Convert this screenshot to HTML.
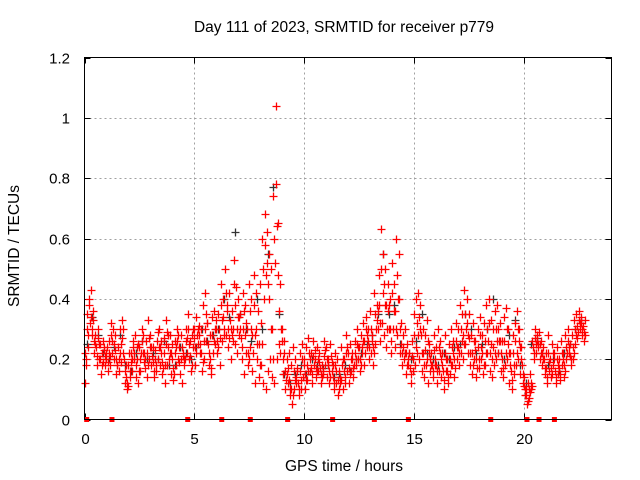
<!DOCTYPE html>
<html><head><meta charset="utf-8"><style>
body{margin:0;background:#fff}
svg{display:block;font-family:"Liberation Sans",sans-serif}
</style></head><body>
<svg id="chart" width="640" height="480" viewBox="0 0 640 480">
<rect width="640" height="480" fill="#fff"/>
<text x="344" y="32" font-size="15.5" text-anchor="middle">Day 111 of 2023, SRMTID for receiver p779</text>
<text transform="translate(19,246) rotate(-90)" font-size="15.5" text-anchor="middle">SRMTID / TECUs</text>
<text x="344" y="471" font-size="15.5" text-anchor="middle">GPS time / hours</text>
<g id="grid"></g>
<g id="axes"></g>
<g id="marks"></g>
<rect x="84.5" y="57.5" width="527" height="362" fill="none" stroke="#000"/>
</svg>
<script>
const xTicks=[0,5,10,15,20];
const yTicks=[0,0.2,0.4,0.6,0.8,1,1.2];
const yTickLabels=["0","0.2","0.4","0.6","0.8","1","1.2"];
const redAStart=0.0, redAStep=0.1;
const redA=[.12,.30,.38,.43,.33,.28,.30,.25,.22,.24,
.20,.26,.32,.30,.28,.18,.22,.33,.20,.14,
.18,.22,.26,.28,.20,.24,.30,.22,.26,.33,
.28,.24,.20,.26,.30,.22,.27,.33,.24,.28,
.20,.26,.30,.24,.28,.22,.30,.35,.26,.28,
.30,.34,.28,.30,.38,.42,.32,.28,.34,.36,
.30,.35,.45,.40,.50,.38,.42,.36,.53,.44,
.40,.35,.42,.38,.30,.45,.40,.48,.42,.36,
.45,.60,.68,.62,.55,.50,.74,1.04,.65,.45,
.30,.26,.20,.22,.18,.24,.20,.16,.22,.25,
.20,.24,.27,.22,.26,.20,.24,.22,.18,.26,
.24,.20,.25,.18,.22,.20,.16,.24,.20,.28,
.22,.25,.20,.26,.30,.24,.28,.32,.34,.30,
.36,.28,.42,.38,.48,.63,.55,.50,.45,.40,
.52,.45,.60,.55,.32,.28,.30,.25,.22,.26,
.35,.40,.42,.38,.30,.28,.33,.25,.22,.28,
.24,.30,.26,.22,.28,.20,.25,.30,.26,.32,
.30,.38,.35,.43,.40,.35,.28,.32,.26,.30,
.34,.28,.32,.38,.40,.33,.30,.36,.38,.32,
.26,.34,.37,.30,.22,.28,.32,.36,.30,.24,
.14,.10,.12,.15,.26,.30,.28,.29,.26,.24,
.22,.28,.20,.25,.22,.24,.20,.26,.22,.28,
.30,.25,.28,.33,.35,.36,.34,.31,.33];
const redBStart=0.05, redBStep=0.1;
const redB=[.20,.24,.32,.28,.22,.18,.20,.15,.19,.21,
.16,.18,.22,.20,.15,.16,.19,.22,.12,.10,
.14,.16,.20,.18,.12,.16,.22,.17,.14,.20,
.18,.14,.16,.20,.18,.15,.12,.18,.20,.15,
.13,.18,.20,.15,.12,.18,.22,.20,.16,.24,
.18,.25,.22,.16,.20,.26,.18,.15,.22,.25,
.22,.18,.26,.30,.28,.24,.20,.30,.25,.22,
.28,.20,.15,.22,.18,.24,.16,.12,.20,.14,
.18,.12,.10,.16,.20,.14,.12,.20,.25,.30,
.15,.10,.12,.08,.05,.10,.12,.08,.10,.14,
.10,.13,.16,.12,.18,.14,.16,.12,.15,.18,
.14,.12,.16,.10,.12,.08,.14,.10,.12,.16,
.12,.16,.14,.18,.20,.16,.22,.18,.24,.20,
.22,.18,.25,.30,.26,.32,.28,.24,.30,.22,
.30,.24,.28,.22,.18,.20,.15,.18,.12,.16,
.18,.22,.20,.16,.14,.18,.12,.16,.14,.18,
.12,.16,.14,.10,.16,.12,.15,.18,.14,.20,
.18,.22,.20,.25,.22,.18,.15,.20,.14,.17,
.20,.15,.18,.22,.16,.14,.18,.20,.22,.16,
.14,.18,.20,.12,.10,.15,.18,.20,.15,.12,
.08,.05,.07,.10,.20,.22,.24,.20,.18,.15,
.12,.16,.14,.18,.12,.15,.13,.18,.14,.20,
.22,.18,.20,.25,.27,.30,.28,.26];
const redCStart=0.025, redCStep=0.1;
const redC=[.22,.35,.40,.30,.26,.24,.27,.20,.26,.18,
.24,.22,.28,.25,.20,.24,.30,.27,.16,.12,
.22,.19,.24,.14,.25,.20,.26,.19,.22,.27,
.24,.19,.23,.29,.24,.19,.22,.25,.28,.22,
.17,.22,.26,.19,.24,.20,.26,.30,.21,.30,
.24,.28,.31,.22,.26,.35,.25,.20,.28,.30,
.26,.30,.38,.34,.42,.30,.33,.28,.45,.30,
.34,.27,.30,.28,.22,.36,.28,.38,.30,.25,
.32,.50,.58,.52,.40,.30,.60,.78,.48,.22,
.20,.16,.15,.13,.10,.16,.14,.12,.16,.20,
.15,.18,.22,.17,.21,.17,.20,.17,.14,.21,
.20,.16,.21,.14,.18,.13,.12,.18,.16,.22,
.17,.20,.17,.22,.25,.20,.24,.26,.30,.26,
.30,.24,.35,.33,.38,.50,.45,.38,.36,.30,
.42,.36,.48,.40,.25,.24,.22,.20,.17,.21,
.28,.32,.34,.28,.22,.23,.26,.20,.18,.23,
.18,.24,.20,.16,.22,.16,.20,.24,.20,.26,
.24,.30,.28,.35,.32,.27,.22,.26,.20,.24,
.28,.22,.26,.30,.32,.25,.24,.30,.30,.26,
.20,.26,.30,.22,.16,.22,.26,.30,.24,.18,
.11,.08,.10,.12,.24,.27,.26,.25,.22,.20,
.17,.22,.17,.22,.16,.20,.17,.22,.18,.24,
.26,.21,.24,.30,.31,.33,.32,.29];
const redDStart=0.075, redDStep=0.1;
const redD=[.18,.28,.34,.36,.25,.21,.25,.18,.23,.22,
.19,.21,.26,.23,.18,.20,.25,.30,.18,.11,
.16,.20,.22,.24,.16,.22,.28,.20,.18,.24,
.21,.16,.18,.24,.26,.17,.18,.29,.22,.25,
.15,.24,.28,.20,.21,.20,.27,.25,.18,.27,
.22,.30,.25,.19,.30,.32,.22,.17,.26,.33,
.24,.27,.33,.28,.36,.27,.30,.26,.38,.34,
.30,.24,.36,.32,.20,.30,.22,.28,.25,.18,
.25,.40,.48,.45,.30,.20,.52,.64,.36,.26,
.22,.13,.17,.10,.08,.13,.17,.10,.13,.18,
.13,.16,.20,.15,.23,.16,.19,.15,.16,.23,
.18,.14,.19,.12,.16,.10,.13,.20,.14,.24,
.15,.22,.18,.20,.24,.18,.26,.22,.28,.24,
.26,.22,.30,.36,.32,.42,.38,.30,.38,.26,
.36,.30,.40,.30,.22,.22,.18,.22,.15,.20,
.24,.28,.30,.22,.18,.20,.22,.18,.16,.20,
.16,.22,.18,.13,.20,.14,.18,.22,.17,.24,
.22,.26,.25,.30,.28,.22,.18,.23,.17,.20,
.24,.18,.22,.26,.22,.20,.22,.26,.26,.22,
.17,.22,.25,.18,.13,.18,.22,.26,.20,.15,
.10,.06,.09,.11,.22,.25,.25,.22,.20,.17,
.14,.19,.15,.20,.14,.18,.15,.20,.16,.22,
.24,.20,.22,.28,.29,.32,.30,.28];
const blackStart=0.1, blackStep=0.25;
const blackVals=[.25,.34,.28,.22,.20,.24,.28,.18,.16,.22,.26,.20,.22,.20,.26,.18,
.18,.24,.22,.20,.24,.30,.26,.28,.30,.40,.34,.62,.35,.30,.26,.40,.30,.55,.77,.35,
.15,.12,.15,.18,.15,.20,.18,.17,.18,.14,.15,.18,.16,.20,.22,.25,.28,.35,.55,.35,
.38,.25,.22,.20,.26,.35,.22,.20,.18,.22,.20,.24,.25,.35,.30,.22,.25,.30,.40,.22,
.20,.28,.33,.18,.12,.25,.27,.22,.18,.20,.16,.22,.25,.30,.33];
const gapTimes=[0.1,1.25,4.7,6.25,7.55,9.25,11.3,13.2,14.75,18.5,20.15,20.7,21.4];

const X0=84.5,X1=611.5,Y0=419.5,Y1=57.5;
const xs=t=>X0+t/24*(X1-X0);
const ys=v=>Y0-v/1.2*(Y0-Y1);
const NS="http://www.w3.org/2000/svg";
function mk(tag,attrs,parent){const e=document.createElementNS(NS,tag);for(const k in attrs)e.setAttribute(k,attrs[k]);parent.appendChild(e);return e;}
const grid=document.getElementById('grid'),axes=document.getElementById('axes'),marks=document.getElementById('marks');
xTicks.forEach(t=>{const x=Math.round(xs(t))+0.5;
 if(t>0){const g=mk('line',{x1:x,x2:x,y1:Y1,y2:Y0,stroke:'#a0a0a0','stroke-dasharray':'2,3'},grid);
 
 }
 mk('line',{x1:x,x2:x,y1:Y0,y2:Y0-6,stroke:'#000'},axes);
 mk('line',{x1:x,x2:x,y1:Y1,y2:Y1+6,stroke:'#000'},axes);
 const l=mk('text',{x:x,y:444,'font-size':15,'text-anchor':'middle'},axes);l.textContent=t;
 
 
});
yTicks.forEach((v,i)=>{const y=Math.round(ys(v))+0.5;
 if(v>0&&v<1.2){const g=mk('line',{x1:X0,x2:X1,y1:y,y2:y,stroke:'#a0a0a0','stroke-dasharray':'2,3'},grid);
 
 }
 mk('line',{x1:X0,x2:X0+6,y1:y,y2:y,stroke:'#000'},axes);
 mk('line',{x1:X1,x2:X1-6,y1:y,y2:y,stroke:'#000'},axes);
 const l=mk('text',{x:70,y:y+5,'font-size':15,'text-anchor':'end'},axes);l.textContent=yTickLabels[i];
 
 
});
function plus(t,v,color,name){const x=Math.round(xs(t))+0.5,y=Math.round(ys(v))+0.5;
 const p=mk('path',{d:`M${x-4},${y}h8M${x},${y-4}v8`,stroke:color,'stroke-width':1.3,fill:'none'},marks);
 
 }
blackVals.forEach((v,i)=>plus(blackStart+i*blackStep,v,'#333','black-point'));
redA.forEach((v,i)=>plus(redAStart+i*redAStep,v,'#f00','red-point'));
redB.forEach((v,i)=>plus(redBStart+i*redBStep,v,'#f00','red-point'));
redC.forEach((v,i)=>plus(redCStart+i*redCStep,v,'#f00','red-point'));
redD.forEach((v,i)=>plus(redDStart+i*redDStep,v,'#f00','red-point'));
gapTimes.forEach(t=>{const r=mk('rect',{x:xs(t)-2.5,y:Y0-2.5,width:5,height:5,fill:'#f00'},marks);
 
 });
</script>
</body></html>
